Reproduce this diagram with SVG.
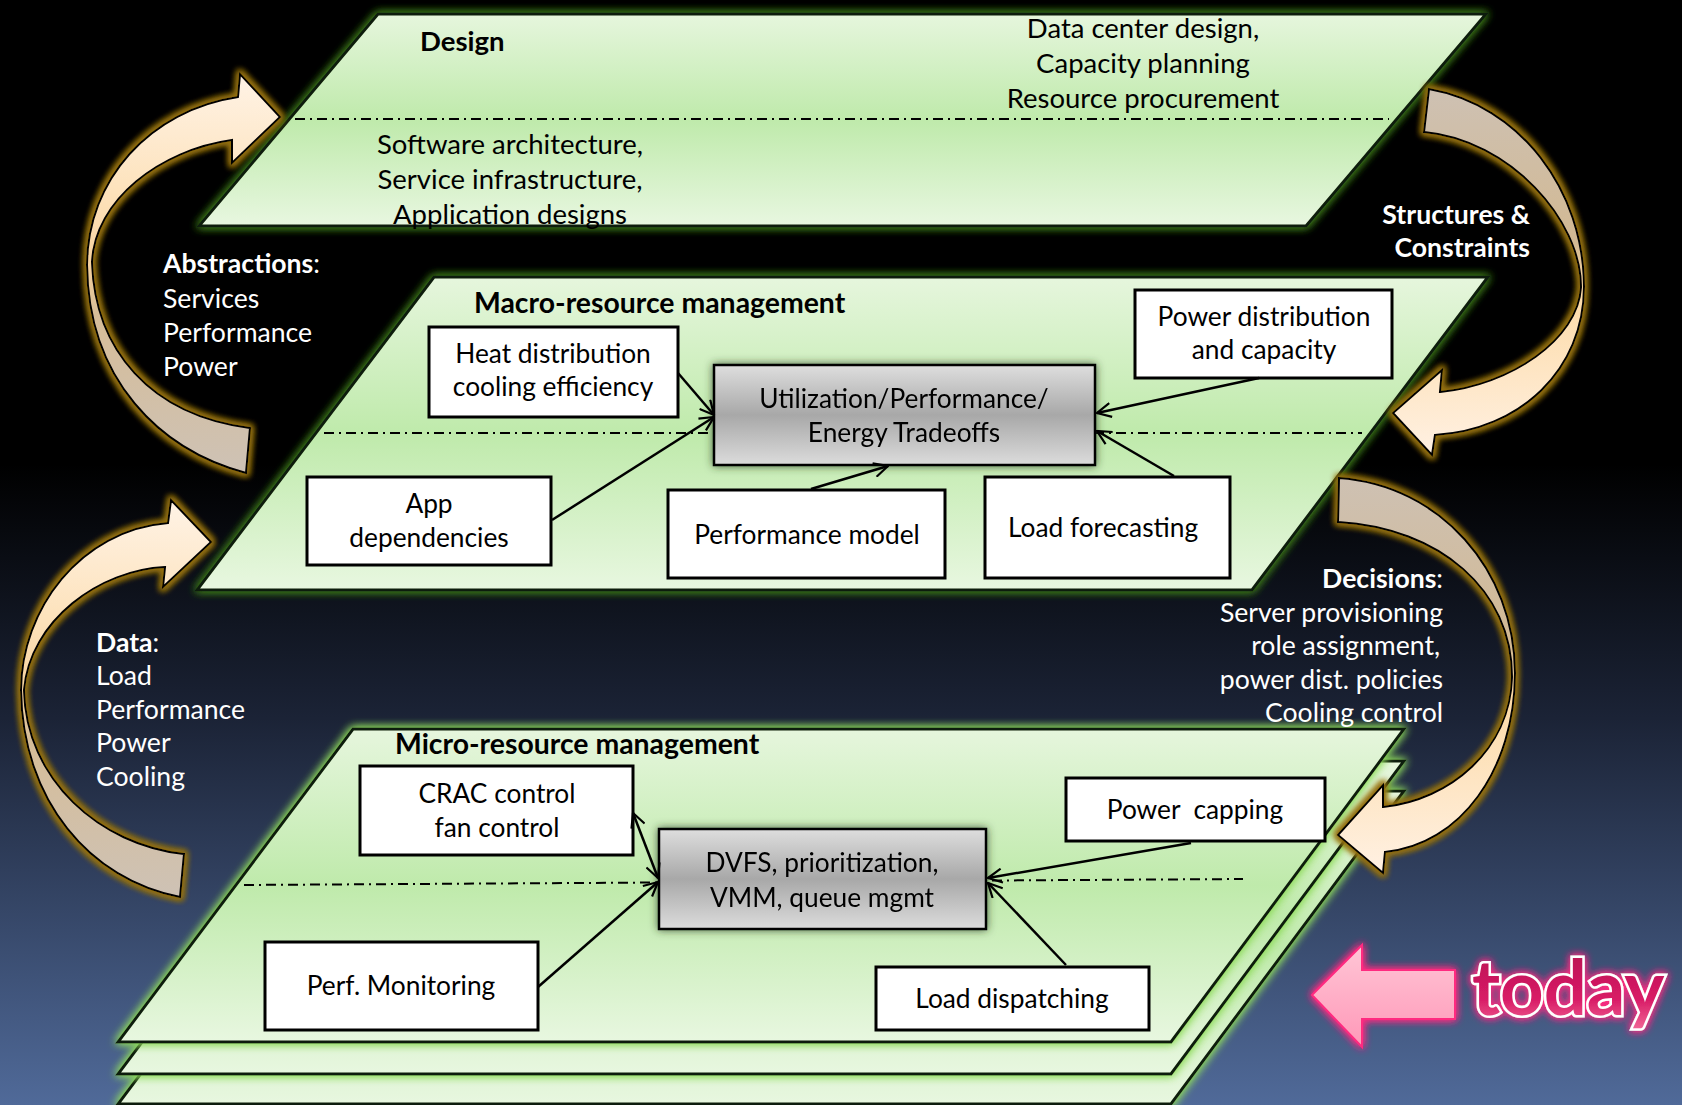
<svg xmlns="http://www.w3.org/2000/svg" width="1682" height="1105" viewBox="0 0 1682 1105">
<defs>
<linearGradient id="bg" x1="0" y1="0" x2="0" y2="1">
<stop offset="0" stop-color="#000"/><stop offset="0.42" stop-color="#000"/><stop offset="0.65" stop-color="#1b2336"/><stop offset="1" stop-color="#506a99"/>
</linearGradient>
<linearGradient id="pg" x1="0" y1="0" x2="0" y2="1">
<stop offset="0" stop-color="#e6f6dd"/><stop offset="0.5" stop-color="#bfeaab"/><stop offset="1" stop-color="#e8f7e0"/>
</linearGradient>
<linearGradient id="gray" x1="0" y1="0" x2="0" y2="1">
<stop offset="0" stop-color="#dedede"/><stop offset="0.5" stop-color="#a8a8a8"/><stop offset="1" stop-color="#dcdcdc"/>
</linearGradient>
<linearGradient id="arUp" x1="0" y1="0" x2="0" y2="1">
<stop offset="0" stop-color="#fff3e6"/><stop offset="0.3" stop-color="#fde2bb"/><stop offset="0.47" stop-color="#f8d4a0"/><stop offset="0.6" stop-color="#d6bd98"/><stop offset="1" stop-color="#cec2b5"/>
</linearGradient>
<linearGradient id="arDn" x1="0" y1="0" x2="0" y2="1">
<stop offset="0" stop-color="#cec1b3"/><stop offset="0.42" stop-color="#d2b993"/><stop offset="0.55" stop-color="#fddaa6"/><stop offset="1" stop-color="#fff1e3"/>
</linearGradient>
<linearGradient id="pink" x1="0" y1="0" x2="0" y2="1">
<stop offset="0" stop-color="#ffc6d6"/><stop offset="1" stop-color="#ff98b8"/>
</linearGradient>
<linearGradient id="todayG" x1="0" y1="0" x2="0" y2="1">
<stop offset="0" stop-color="#b3124f"/><stop offset="0.65" stop-color="#d81b66"/><stop offset="1" stop-color="#f26a98"/>
</linearGradient>
<filter id="glowDark" x="-10%" y="-10%" width="120%" height="120%">
<feGaussianBlur in="SourceAlpha" stdDeviation="5" result="b"/>
<feFlood flood-color="#3f7d1f"/><feComposite in2="b" operator="in" result="g"/>
<feMerge><feMergeNode in="g"/><feMergeNode in="g"/><feMergeNode in="SourceGraphic"/></feMerge>
</filter>
<filter id="glowLime" x="-10%" y="-10%" width="120%" height="120%">
<feGaussianBlur in="SourceAlpha" stdDeviation="5" result="b"/>
<feFlood flood-color="#8fdc5c"/><feComposite in2="b" operator="in" result="g"/>
<feMerge><feMergeNode in="g"/><feMergeNode in="g"/><feMergeNode in="SourceGraphic"/></feMerge>
</filter>
<filter id="glowGold" x="-20%" y="-20%" width="140%" height="140%">
<feMorphology in="SourceAlpha" operator="dilate" radius="2" result="d"/>
<feGaussianBlur in="d" stdDeviation="3" result="b"/>
<feFlood flood-color="#94700f"/><feComposite in2="b" operator="in" result="g"/>
<feMerge><feMergeNode in="g"/><feMergeNode in="g"/><feMergeNode in="SourceGraphic"/></feMerge>
</filter>
<filter id="glowPink" x="-20%" y="-20%" width="140%" height="140%">
<feGaussianBlur in="SourceAlpha" stdDeviation="4" result="b"/>
<feFlood flood-color="#ff2a80"/><feComposite in2="b" operator="in" result="g"/>
<feMerge><feMergeNode in="g"/><feMergeNode in="g"/><feMergeNode in="SourceGraphic"/></feMerge>
</filter>
<filter id="shadow" x="-10%" y="-20%" width="120%" height="140%">
<feGaussianBlur in="SourceAlpha" stdDeviation="4" result="b"/>
<feFlood flood-color="#2a3a20" flood-opacity="0.8"/><feComposite in2="b" operator="in" result="g"/>
<feMerge><feMergeNode in="g"/><feMergeNode in="SourceGraphic"/></feMerge>
</filter>
<marker id="ah" viewBox="0 0 16 16" refX="15" refY="8" markerWidth="16" markerHeight="16" orient="auto" markerUnits="userSpaceOnUse">
<path d="M1,1 L15,8 L1,15" fill="none" stroke="#000" stroke-width="2.2"/>
</marker>
<marker id="ahs" viewBox="0 0 16 16" refX="1" refY="8" markerWidth="16" markerHeight="16" orient="auto" markerUnits="userSpaceOnUse">
<path d="M15,1 L1,8 L15,15" fill="none" stroke="#000" stroke-width="2.2"/>
</marker>
<style>
text{font-family:Lato,"Open Sans","Liberation Sans",sans-serif;font-size:26.3px;fill:#000}
.big{font-size:27.5px}
.ttl{font-size:28.4px}
.lbl{font-size:26.6px}
.b{font-weight:bold}
.w{fill:#fff}
.m{text-anchor:middle}
.e{text-anchor:end}
.plane{fill:url(#pg);stroke:#0f1f08;stroke-width:3}
.box{fill:#fff;stroke:#000;stroke-width:3}
.gbox{fill:url(#gray);stroke:#000;stroke-width:2.5}
.dash{fill:none;stroke:#000;stroke-width:2;stroke-dasharray:10 5 2 5}
.conn{fill:none;stroke:#000;stroke-width:2.5;marker-end:url(#ah)}
.arrow{stroke:#000;stroke-width:2}
</style>
</defs>

<rect x="0" y="0" width="1682" height="1105" fill="url(#bg)"/>

<g id="plane-design" filter="url(#glowDark)">
<polygon class="plane" points="378,14 1486,14 1306,226 199,226"/>
</g>
<g id="plane-macro" filter="url(#glowDark)">
<polygon class="plane" points="434,277 1488,277 1252,590 197,590"/>
</g>
<g id="plane-micro">
<polygon class="plane" filter="url(#glowLime)" points="353,791 1404,791 1171,1104 118,1104"/>
<polygon class="plane" filter="url(#glowLime)" points="353,761 1404,761 1171,1074 118,1074"/>
<polygon class="plane" filter="url(#glowLime)" points="353,729 1404,729 1171,1042 118,1042"/>
</g>

<g id="dividers">
<path class="dash" d="M295,119 L1389,119"/>
<path class="dash" d="M324,433 L1362,433"/>
<path class="dash" d="M244,885 L1243,879"/>
</g>

<g id="design-texts">
<text class="big b" x="420" y="51">Design</text>
<text class="big m" x="1143" y="38">Data center design,</text>
<text class="big m" x="1143" y="73">Capacity planning</text>
<text class="big m" x="1143" y="108">Resource procurement</text>
<text class="big m" x="510" y="154">Software architecture,</text>
<text class="big m" x="510" y="189">Service infrastructure,</text>
<text class="big m" x="510" y="224">Application designs</text>
</g>

<g id="macro-title"><text class="ttl b" x="474" y="313">Macro-resource management</text></g>
<g id="micro-title"><text class="ttl b" x="395" y="754">Micro-resource management</text></g>

<g id="node-heat">
<rect class="box" x="429" y="327" width="249" height="90"/>
<text class="m" x="553" y="363">Heat distribution</text>
<text class="m" x="553" y="396">cooling efficiency</text>
</g>
<g id="node-app">
<rect class="box" x="307" y="477" width="244" height="88"/>
<text class="m" x="429" y="513">App</text>
<text class="m" x="429" y="547">dependencies</text>
</g>
<g id="node-util" filter="url(#shadow)">
<rect class="gbox" x="714" y="365" width="381" height="100"/>
<text class="m" x="904" y="408">Utilization/Performance/</text>
<text class="m" x="904" y="442">Energy Tradeoffs</text>
</g>
<g id="node-perfmodel">
<rect class="box" x="668" y="490" width="277" height="88"/>
<text class="m" x="807" y="544">Performance model</text>
</g>
<g id="node-loadfc">
<rect class="box" x="985" y="477" width="245" height="101"/>
<text class="m" x="1103" y="537">Load forecasting</text>
</g>
<g id="node-powerdist">
<rect class="box" x="1135" y="290" width="257" height="88"/>
<text class="m" x="1264" y="326">Power distribution</text>
<text class="m" x="1264" y="359">and capacity</text>
</g>

<g id="node-crac">
<rect class="box" x="360" y="766" width="273" height="89"/>
<text class="m" x="497" y="803">CRAC control</text>
<text class="m" x="497" y="837">fan control</text>
</g>
<g id="node-dvfs" filter="url(#shadow)">
<rect class="gbox" x="659" y="829" width="327" height="100"/>
<text class="m" x="822" y="872">DVFS, prioritization,</text>
<text class="m" x="822" y="907">VMM, queue mgmt</text>
</g>
<g id="node-perfmon">
<rect class="box" x="265" y="942" width="273" height="88"/>
<text class="m" x="401" y="995">Perf. Monitoring</text>
</g>
<g id="node-powercap">
<rect class="box" x="1066" y="778" width="259" height="63"/>
<text class="m" x="1195" y="819" xml:space="preserve">Power  capping</text>
</g>
<g id="node-loaddisp">
<rect class="box" x="876" y="967" width="273" height="63"/>
<text class="m" x="1012" y="1008">Load dispatching</text>
</g>

<g id="connectors">
<path class="conn" d="M678,373 L714,415"/>
<path class="conn" d="M552,520 L714,417"/>
<path class="conn" d="M811,489 L888,466"/>
<path class="conn" d="M1259,378 L1097,413"/>
<path class="conn" d="M1174,476 L1097,431"/>
<path class="conn" d="M633,813 L658,878" marker-start="url(#ahs)"/>
<path class="conn" d="M538,987 L658,882"/>
<path class="conn" d="M1191,843 L988,878"/>
<path class="conn" d="M1066,965 L988,883"/>
</g>

<g id="arrow-abstractions" filter="url(#glowGold)">
<path class="arrow" fill="url(#arUp)" d="M246,473 C160,450 88,380 87,265 C87,180 150,110 238,97 L240,74 L280,117 L232,163 L232,140 C160,150 95,200 92,262 C95,350 150,415 250,428 Z"/>
</g>
<g id="arrow-data" filter="url(#glowGold)">
<path class="arrow" fill="url(#arUp)" d="M180,897 C90,880 22,800 21,690 C21,610 80,530 168,523 L171,500 L211,542 L163,587 L165,567 C100,570 30,620 24,690 C26,780 100,845 184,854 Z"/>
</g>
<g id="arrow-structures" filter="url(#glowGold)">
<path class="arrow" fill="url(#arDn)" d="M1429,89 C1520,105 1584,190 1584,287 C1584,370 1520,430 1435,435 L1432,455 L1393,413 L1442,370 L1440,392 C1510,385 1578,340 1581,287 C1581,220 1510,140 1424,132 Z"/>
</g>
<g id="arrow-decisions" filter="url(#glowGold)">
<path class="arrow" fill="url(#arDn)" d="M1339,478 C1440,485 1515,570 1515,673 C1515,770 1460,845 1385,852 L1383,873 L1338,835 L1383,785 L1383,807 C1450,800 1510,750 1512,677 C1512,590 1440,528 1338,522 Z"/>
</g>

<g id="label-abstractions">
<text class="w lbl" x="163" y="273"><tspan class="b">Abstractions</tspan>:</text>
<text class="w lbl" x="163" y="308">Services</text>
<text class="w lbl" x="163" y="342">Performance</text>
<text class="w lbl" x="163" y="376">Power</text>
</g>
<g id="label-data">
<text class="w lbl" x="96" y="652"><tspan class="b">Data</tspan>:</text>
<text class="w lbl" x="96" y="685">Load</text>
<text class="w lbl" x="96" y="719">Performance</text>
<text class="w lbl" x="96" y="752">Power</text>
<text class="w lbl" x="96" y="786">Cooling</text>
</g>
<g id="label-structures">
<text class="w lbl b e" x="1530" y="224">Structures &amp;</text>
<text class="w lbl b e" x="1530" y="257">Constraints</text>
</g>
<g id="label-decisions">
<text class="w lbl e" x="1443" y="588"><tspan class="b">Decisions</tspan>:</text>
<text class="w lbl e" x="1443" y="622">Server provisioning</text>
<text class="w lbl e" x="1440" y="655">role assignment,</text>
<text class="w lbl e" x="1443" y="689">power dist. policies</text>
<text class="w lbl e" x="1443" y="722">Cooling control</text>
</g>

<g id="today">
<polygon filter="url(#glowPink)" fill="url(#pink)" stroke="#ff2a80" stroke-width="2" points="1312,995 1362,945 1362,970 1455,970 1455,1019 1362,1019 1362,1047"/>
<text x="1472" y="1015" filter="url(#glowPink)" style="font-size:76px;font-weight:bold;fill:url(#todayG);stroke:#fff;stroke-width:5;paint-order:stroke">today</text>
</g>
</svg>
